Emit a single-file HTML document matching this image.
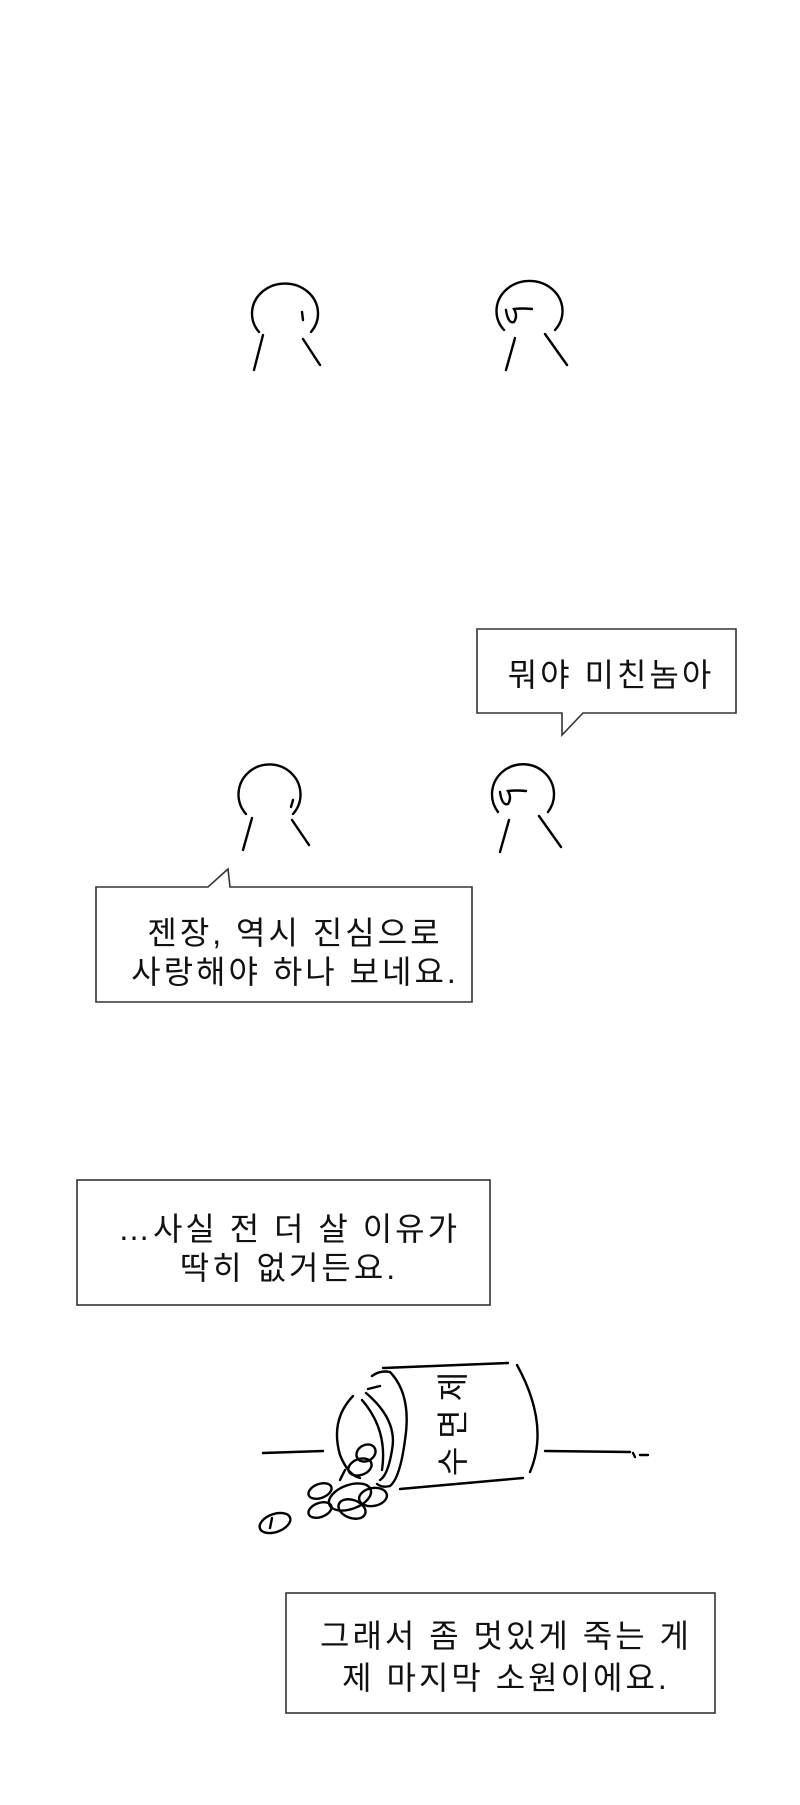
<!DOCTYPE html>
<html><head><meta charset="utf-8"><style>
html,body{margin:0;padding:0;background:#fff;}
body{width:800px;height:1800px;overflow:hidden;}
text{font-family:"Liberation Sans","Noto Sans CJK KR",sans-serif;fill:#111;}
</style></head><body>
<svg width="800" height="1800" viewBox="0 0 800 1800" xmlns="http://www.w3.org/2000/svg">
<g fill="none" stroke="#000" stroke-width="2.4" stroke-linecap="round">
<!-- top figures -->
<path d="M259,332 A33,30 0 1 1 311,332"/>
<path d="M263,335 L254,370 M303,339 L320,365 M302,312 L303,320"/>
<path d="M504,330 A33,30 0 1 1 555,330"/>
<path d="M506,310 Q508,324 514,322 Q518,316 514,309 Q522,308 532,309"/>
<path d="M515,338 L506,370 M545,334 L567,365"/>
<!-- second figures -->
<path d="M246,814 A31,30 0 1 1 293,814"/>
<path d="M252,818 L243,850 M292,820 L309,845 M293,800 L291,807"/>
<path d="M498,812 A31,30 0 1 1 548,812"/>
<path d="M500,792 Q502,806 508,804 Q512,798 508,791 Q516,790 526,791"/>
<path d="M509,820 L500,852 M539,816 L561,847"/>
<!-- bottle -->
<path d="M263,1453 L323,1451 M545,1451 L630,1452 M633,1453 L635,1457 M640,1455 L648,1455"/>
<path d="M383,1368 L508,1363 M400,1489 L523,1478"/>
<path d="M517,1365 Q550,1425 530,1472"/>
<path d="M372,1376 Q380,1370 390,1372 Q412,1395 405,1440 Q400,1478 390,1486 Q382,1488 377,1484"/>
<path d="M366,1393 Q398,1420 392,1450 Q388,1475 380,1480"/>
<path d="M362,1400 Q388,1430 382,1470"/>
<path d="M353,1396 Q330,1420 340,1455 Q348,1475 360,1478"/>
<path d="M368,1389 L380,1386"/>
<ellipse cx="366" cy="1453" rx="10" ry="8" transform="rotate(-30 366 1453)"/>
<ellipse cx="360" cy="1467" rx="12" ry="8" transform="rotate(-20 360 1467)"/>
<ellipse cx="350" cy="1497" rx="22" ry="12" transform="rotate(-20 350 1497)"/>
<ellipse cx="373" cy="1497" rx="14" ry="9" transform="rotate(-10 373 1497)"/>
<ellipse cx="352" cy="1509" rx="14" ry="9" transform="rotate(20 352 1509)"/>
<ellipse cx="320" cy="1510" rx="12" ry="7" transform="rotate(-20 320 1510)"/>
<ellipse cx="320" cy="1491" rx="12" ry="7" transform="rotate(-20 320 1491)"/>
<ellipse cx="275" cy="1523" rx="16" ry="9" transform="rotate(-20 275 1523)"/>
<path d="M272,1518 L270,1528 M340,1480 L345,1470"/>
</g>
<text x="452" y="1432" font-size="32" letter-spacing="8" text-anchor="middle" transform="rotate(-90 452 1420)">수면제</text>
<!-- boxes -->
<g fill="#fff" stroke="#333" stroke-width="1.6">
<path d="M477,629 H736 V713 H583 L562,735 V713 H477 Z"/>
<path d="M96,887 H208 L228,869 L230,887 H472 V1002 H96 Z"/>
<rect x="77" y="1180" width="413" height="125"/>
<rect x="286" y="1593" width="429" height="120"/>
</g>
<g font-size="32" letter-spacing="3" text-anchor="middle">
<text x="611" y="686">뭐야 미친놈아</text>
<text x="295" y="944">젠장, 역시 진심으로</text>
<text x="295" y="983">사랑해야 하나 보네요.</text>
<text x="289" y="1240">…사실 전 더 살 이유가</text>
<text x="289" y="1279">딱히 없거든요.</text>
<text x="506" y="1647">그래서 좀 멋있게 죽는 게</text>
<text x="506" y="1689">제 마지막 소원이에요.</text>
</g>
</svg>
</body></html>
